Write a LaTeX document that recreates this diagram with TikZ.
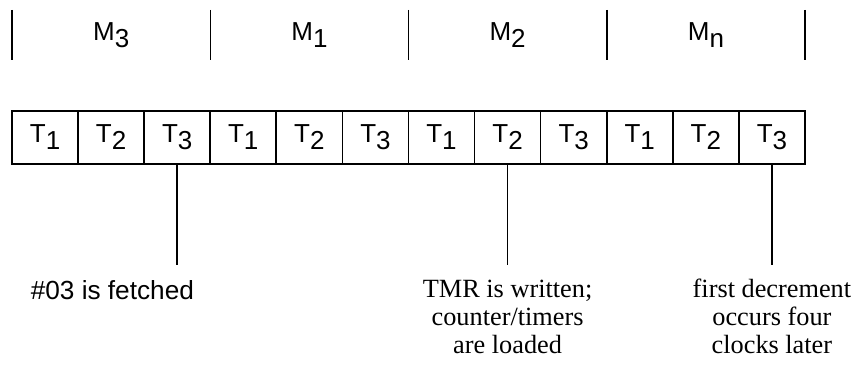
\documentclass[tikz,border=0pt]{standalone}
\usepackage{fontspec}
\setmainfont{Liberation Serif}
\setsansfont{Liberation Sans}
\newcommand{\lowsub}[1]{\raisebox{-0.27em}{#1}}
\begin{document}
\begin{tikzpicture}[x=1pt,y=-1pt,line width=1.6pt,
  slot/.style={draw,minimum width=66pt,minimum height=53pt,inner sep=0pt,
    font=\sffamily\fontsize{26}{28}\selectfont},
  mlabel/.style={inner sep=0pt,font=\sffamily\fontsize{26}{28}\selectfont},
  note/.style={inner sep=0pt,align=center,font=\rmfamily\fontsize{26.3}{28.3}\selectfont},
  snote/.style={inner sep=0pt,font=\sffamily\fontsize{26.2}{28}\selectfont}]
\useasboundingbox (0,0) rectangle (857,366);
% machine cycle bar
\foreach \i/\x in {0/12,1/210.3,2/408.5,3/606.8,4/805}{
  \coordinate (mt\i) at (\x,10);
  \coordinate (mb\i) at (\x,60);
  \draw (mt\i) -- (mb\i);
}
\node[mlabel] (m3) at (111.2,35) {M\lowsub{3}};
\node[mlabel] (m1) at (309.4,35) {M\lowsub{1}};
\node[mlabel] (m2) at (507.6,35) {M\lowsub{2}};
\node[mlabel] (mn) at (705.9,35) {M\lowsub{n}};
% T states
\foreach \k/\s in {1/1,2/2,3/3,4/1,5/2,6/3,7/1,8/2,9/3,10/1,11/2,12/3}{
  \node[slot] (t\k) at ({12+66.08*(\k-0.5)},137.5) {T\lowsub{\s}};
}
% markers
\coordinate (e3) at (t3.south |- 0,265);
\coordinate (e8) at (t8.south |- 0,265);
\coordinate (e12) at (t12.south |- 0,265);
\draw (t3.south) -- (e3);
\draw (t8.south) -- (e8);
\draw (t12.south) -- (e12);
% notes
\node[snote,anchor=base west] (n1) at (30,299) {\#03 is fetched};
\node[note,anchor=base] (n2) at (e8 |- 0,353.6) {TMR is written;\\counter/timers\\are loaded};
\node[note,anchor=base] (n3) at (e12 |- 0,353.6) {first decrement\\occurs four\\clocks later};
\end{tikzpicture}
\end{document}
